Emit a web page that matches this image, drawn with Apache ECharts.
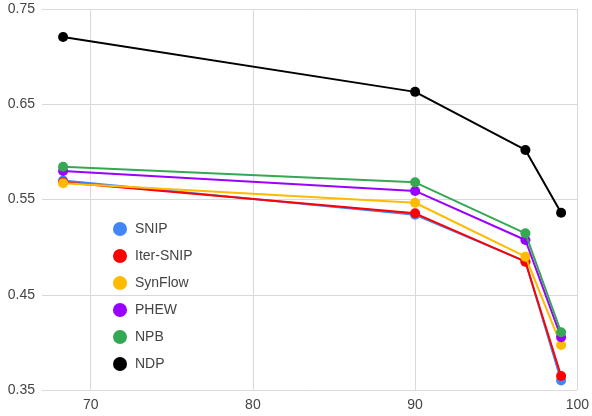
<!DOCTYPE html>
<html><head><meta charset="utf-8">
<script src="https://cdn.jsdelivr.net/npm/echarts@6/dist/echarts.min.js"></script>
<style>html,body{margin:0;padding:0;background:#fff}#c{width:592px;height:416px}</style>
</head><body><div id="c"></div>
<script>
const xValues = [68.3, 90, 96.8, 99];
const seriesNames = ['SNIP', 'Iter-SNIP', 'SynFlow', 'PHEW', 'NPB', 'NDP'];
const snip = [0.570, 0.534, 0.485, 0.360];
const iterSnip = [0.568, 0.5355, 0.4847, 0.3647];
const synFlow = [0.567, 0.5466, 0.490, 0.3972];
const phew = [0.580, 0.559, 0.5075, 0.4053];
const npb = [0.5844, 0.568, 0.5145, 0.4106];
const ndp = [0.7206, 0.663, 0.602, 0.536];
const xTicks = [70, 80, 90, 100];
const colors = ['#4285F4', '#FF0000', '#FFBB00', '#9900FF', '#34A853', '#000000'];

const allValues = [snip, iterSnip, synFlow, phew, npb, ndp];
const font = 'Arial, "Liberation Sans", sans-serif';
const chart = echarts.init(document.getElementById('c'));
chart.setOption({
  animation: false,
  color: colors,
  grid: {left: 42, right: 13, top: 9, bottom: 26, containLabel: false},
  legend: {
    orient: 'vertical', left: 108, top: 217,
    icon: 'circle', itemWidth: 14, itemHeight: 14, itemGap: 13,
    textStyle: {fontFamily: font, fontSize: 14, color: '#444', padding: [0, 0, 0, 3]},
    data: seriesNames
  },
  xAxis: {
    type: 'value', min: 67, max: 100,
    axisLine: {show: false},
    axisTick: {show: false, customValues: xTicks},
    axisLabel: {customValues: xTicks, fontFamily: font, fontSize: 14, color: '#444', margin: 8},
    splitLine: {show: true, lineStyle: {color: '#d9d9d9', width: 1}}
  },
  yAxis: {
    type: 'value', min: 0.35, max: 0.75, interval: 0.1,
    axisLine: {show: false}, axisTick: {show: false},
    axisLabel: {formatter: v => v.toFixed(2), fontFamily: font, fontSize: 14, color: '#444', margin: 7},
    splitLine: {show: true, lineStyle: {color: '#d9d9d9', width: 1}}
  },
  series: seriesNames.map((n, i) => ({
    name: n, type: 'line',
    data: xValues.map((x, j) => [x, allValues[i][j]]),
    symbol: 'circle', symbolSize: 10,
    lineStyle: {width: 2},
    z: 2 + i
  }))
});
</script></body></html>
